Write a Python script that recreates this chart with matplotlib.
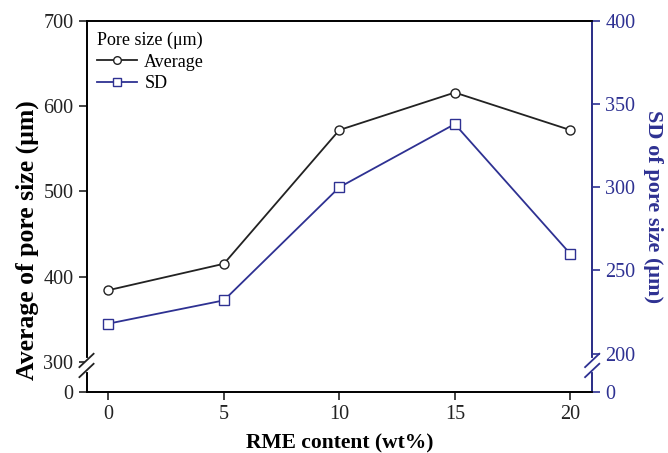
import matplotlib.pyplot as plt
from matplotlib.lines import Line2D

plt.rcParams['font.family'] = ['Liberation Serif', 'DejaVu Serif']

# Data
rme = [0, 5, 10, 15, 20]
avg_size = [384, 415, 572, 616, 572]
sd_size = [218, 232, 300, 338, 260]

left_ticks = [264.5, 300, 400, 500, 600, 700]
left_labels = ['0', '300', '400', '500', '600', '700']
right_ticks = [176.9, 200, 250, 300, 350, 400]
right_labels = ['0', '200', '250', '300', '350', '400']

blue = '#2E3192'
dark = '#222222'

fig = plt.figure(figsize=(6.68, 4.53), dpi=100)
ax1 = fig.add_axes([0.1295, 0.1347, 0.757, 0.819])
ax2 = ax1.twinx()

ax1.plot(rme, avg_size, color=dark, marker='o', markersize=6.5,
         markerfacecolor='white', markeredgecolor=dark, lw=1.3, label='Average')
ax2.plot(rme, sd_size, color=blue, marker='s', markersize=6.5,
         markerfacecolor='white', markeredgecolor=blue, lw=1.3, label='SD')

ax1.set_xlim(-0.95, 20.95)
ax1.set_ylim(264.5, 700)
ax2.set_ylim(176.9, 399.6)

ax1.set_xticks(rme)
ax1.set_yticks(left_ticks)
ax1.set_yticklabels(left_labels)
ax2.set_yticks(right_ticks)
ax2.set_yticklabels(right_labels)

ax1.tick_params(axis='both', direction='out', length=6, width=1.2, labelsize=14.5, colors=dark)
ax2.tick_params(axis='y', direction='out', length=6, width=1.2, labelsize=14.5, colors=blue)

for s in ax1.spines.values():
    s.set_linewidth(1.3)
    s.set_color(dark)
for s in ax2.spines.values():
    s.set_linewidth(1.3)
ax2.spines['right'].set_color(blue)

ax1.set_xlabel('RME content (wt%)', fontsize=15.5, fontweight='bold', labelpad=7)
ax1.set_ylabel('Average of pore size (μm)', fontsize=18.5, fontweight='bold')
ax1.yaxis.set_label_coords(-0.093, 0.41)
ax2.set_ylabel('SD of pore size (μm)', fontsize=16, fontweight='bold', color=blue,
               rotation=270, labelpad=20)

# axis break marks
def axis_break(ax, x, y0, y1, color):
    trans = ax.transAxes
    ax.plot([x, x], [y0, y1], color='white', lw=3, transform=trans, clip_on=False, zorder=5)
    dx = 0.014
    dy = 0.018
    for y in (y0, y1):
        ax.plot([x - dx, x + dx], [y - dy, y + dy], color=color, lw=1.3,
                transform=trans, clip_on=False, zorder=6)

axis_break(ax2, 0.0, 0.058, 0.085, dark)
axis_break(ax2, 1.0, 0.058, 0.085, blue)

handles = [
    Line2D([], [], color=dark, marker='o', markerfacecolor='white', markersize=5.5, lw=1.3),
    Line2D([], [], color=blue, marker='s', markerfacecolor='white', markersize=5.5, lw=1.3),
]
leg = ax2.legend(handles, ['Average', 'SD'], title='Pore size (μm)', loc='upper left',
                 frameon=False, fontsize=13, title_fontsize=13, handlelength=2.2,
                 handletextpad=0.4, labelspacing=0.25, borderaxespad=0.2, alignment='left')

fig.savefig('out.png', dpi=100)
